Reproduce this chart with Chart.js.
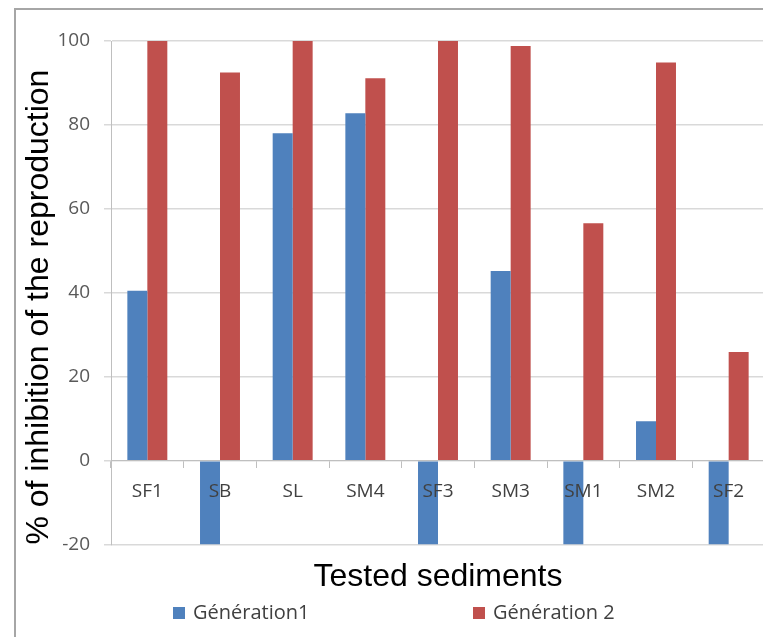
<!DOCTYPE html>
<html>
<head>
<meta charset="utf-8">
<script src="https://cdn.jsdelivr.net/npm/chart.js@4/dist/chart.umd.min.js"></script>
<style>
	html, body { margin: 0; padding: 0; background: #fff; overflow: hidden; }
	canvas { display: block; }
</style>
</head>
<body>
<canvas id="graficoInibicao" width="770" height="637"></canvas>
<script>
categorias = ['SF1', 'SB', 'SL', 'SM4', 'SF3', 'SM3', 'SM1', 'SM2', 'SF2']
geracao1 = [40.5, -20, 78, 82.8, -20, 45.2, -20, 9.4, -20]
geracao2 = [100, 92.5, 100, 91.1, 100, 98.8, 56.6, 94.9, 25.9]
ticksY = [-20, 0, 20, 40, 60, 80, 100]
nomesSeries = ['Génération1', 'Génération 2']
cores = ['#4F81BD', '#C0504D']

// moldura cinza do grafico (o lado direito e o de baixo ficam fora da janela)
var molduraPlugin = {
	id: 'moldura',
	beforeDraw: function (chart) {
		var ctx = chart.ctx
		ctx.save()
		ctx.strokeStyle = '#a6a6a6'
		ctx.lineWidth = 2
		ctx.strokeRect(15, 9, 800, 700)
		ctx.restore()
	}
}

// legenda no estilo do Excel, itens bem afastados
var legendaPlugin = {
	id: 'legenda',
	afterDraw: function (chart) {
		var ctx = chart.ctx
		var posX = [173, 473]
		var y = 613
		ctx.save()
		ctx.font = '20px "Open Sans"'
		ctx.textBaseline = 'middle'
		chart.data.datasets.forEach(function (ds, i) {
			ctx.fillStyle = ds.backgroundColor
			ctx.fillRect(posX[i], y - 6, 12, 12)
			ctx.fillStyle = '#404040'
			ctx.fillText(ds.label, posX[i] + 20, y)
		})
		ctx.restore()
	}
}

function makeObjetoChart() {
	return {
		type: 'bar',
		data: {
			labels: categorias,
			datasets: [
				{
					label: nomesSeries[0],
					data: geracao1,
					backgroundColor: cores[0],
					categoryPercentage: 0.55,
					barPercentage: 1.0,
				},
				{
					label: nomesSeries[1],
					data: geracao2,
					backgroundColor: cores[1],
					categoryPercentage: 0.55,
					barPercentage: 1.0,
				},
			],
		},
		options: {
			responsive: false,
			animation: false,
			layout: {
				padding: { left: 15, top: 41, right: 5, bottom: 41 }
			},
			plugins: {
				legend: { display: false },
				tooltip: { enabled: false },
				title: {
					display: true,
					text: 'Tested sediments',
					position: 'bottom',
					fullSize: false,
					color: '#000',
					font: { family: '"Liberation Sans", Arial', size: 32, weight: 'normal', lineHeight: 1.2 },
					padding: { top: 13, bottom: 0 },
				},
			},
			scales: {
				x: {
					position: { y: 0 },
					grid: {
						drawOnChartArea: false,
						drawTicks: true,
						tickLength: 7,
						offset: true,
						color: '#bfbfbf',
					},
					border: { display: true, color: '#bfbfbf', width: 1, z: 1 },
					ticks: {
						z: 1,
						color: '#404040',
						padding: 13,
						font: { family: '"Open Sans"', size: 19 },
						maxRotation: 0,
					},
				},
				y: {
					min: ticksY[0],
					max: ticksY[ticksY.length - 1],
					afterFit: function (scale) {
						scale.width = 96
					},
					ticks: {
						stepSize: ticksY[1] - ticksY[0],
						color: '#595959',
						padding: 14,
						font: { family: '"Open Sans"', size: 19 },
					},
					grid: {
						color: '#d9d9d9',
						lineWidth: 1.5,
						tickLength: 7,
					},
					border: { display: true, color: '#bfbfbf', width: 1 },
					title: {
						display: true,
						text: '% of inhibition of the reproduction',
						align: 'start',
						color: '#000',
						font: { family: '"Liberation Sans", Arial', size: 32, weight: 'normal', lineHeight: 1.2 },
						padding: { top: 5, bottom: 0 },
					},
				},
			},
		},
		plugins: [molduraPlugin, legendaPlugin],
	}
}

var ctx = document.getElementById('graficoInibicao').getContext('2d')
window.graficoInibicao = new Chart(ctx, makeObjetoChart())
</script>
</body>
</html>
